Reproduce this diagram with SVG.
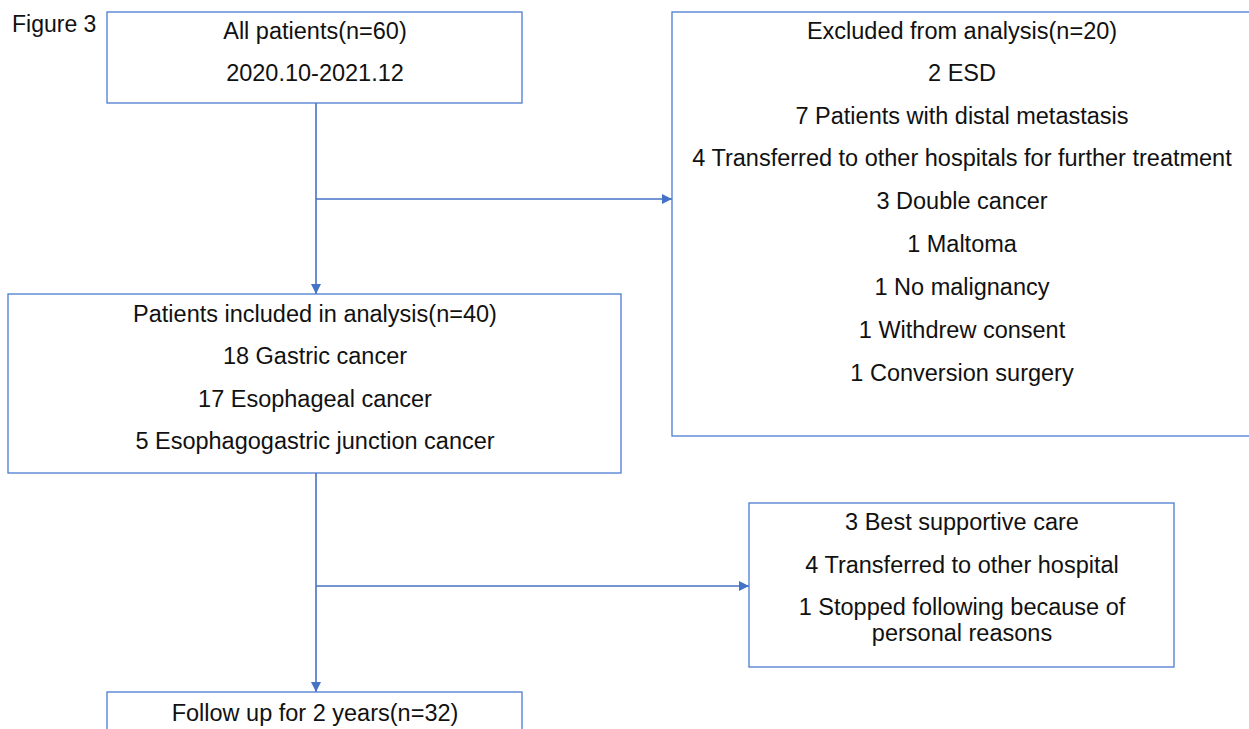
<svg xmlns="http://www.w3.org/2000/svg" width="1249" height="729" viewBox="0 0 1249 729">
<style>
.box{fill:#fff;stroke:#4a7bd0;stroke-width:1.3}
.t{font-family:"Liberation Sans",Arial,sans-serif;font-size:23.5px;fill:#111;text-anchor:middle}
.c{fill:none;stroke:#4472c4;stroke-width:1.6}
</style>
<defs>
<marker id="a" viewBox="0 0 10 10" refX="10" refY="5" markerWidth="10" markerHeight="10" orient="auto" markerUnits="userSpaceOnUse">
<path d="M0,0 L10,5 L0,10 z" fill="#4472c4"/>
</marker>
</defs>
<rect width="1249" height="729" fill="#fff"/>
<text x="12" y="32" style="font-family:'Liberation Sans',Arial,sans-serif;font-size:23px;fill:#111">Figure 3</text>
<g id="connectors">
<line class="c" x1="316" y1="103" x2="316" y2="294" marker-end="url(#a)"/>
<line class="c" x1="316" y1="199" x2="672" y2="199" marker-end="url(#a)"/>
<line class="c" x1="316" y1="473" x2="316" y2="692" marker-end="url(#a)"/>
<line class="c" x1="316" y1="586" x2="749" y2="586" marker-end="url(#a)"/>
</g>
<g id="all-patients">
<rect class="box" x="107" y="12" width="415" height="91"/>
<text class="t" x="315" y="39">All patients(n=60)</text>
<text class="t" x="315" y="81">2020.10-2021.12</text>
</g>
<g id="excluded">
<rect class="box" x="672" y="12" width="590" height="424"/>
<text class="t" x="962" y="39">Excluded from analysis(n=20)</text>
<text class="t" x="962" y="81">2 ESD</text>
<text class="t" x="962" y="124">7 Patients with distal metastasis</text>
<text class="t" x="962" y="166">4 Transferred to other hospitals for further treatment</text>
<text class="t" x="962" y="209">3 Double cancer</text>
<text class="t" x="962" y="252">1 Maltoma</text>
<text class="t" x="962" y="295">1 No malignancy</text>
<text class="t" x="962" y="338">1 Withdrew consent</text>
<text class="t" x="962" y="381">1 Conversion surgery</text>
</g>
<g id="included">
<rect class="box" x="8" y="294" width="613" height="179"/>
<text class="t" x="315" y="322">Patients included in analysis(n=40)</text>
<text class="t" x="315" y="364">18 Gastric cancer</text>
<text class="t" x="315" y="407">17 Esophageal cancer</text>
<text class="t" x="315" y="449">5 Esophagogastric junction cancer</text>
</g>
<g id="dropped">
<rect class="box" x="749" y="503" width="425" height="164"/>
<text class="t" x="962" y="530">3 Best supportive care</text>
<text class="t" x="962" y="573">4 Transferred to other hospital</text>
<text class="t" x="962" y="615">1 Stopped following because of</text>
<text class="t" x="962" y="641">personal reasons</text>
</g>
<g id="follow-up">
<rect class="box" x="107" y="692" width="415" height="60"/>
<text class="t" x="315" y="721">Follow up for 2 years(n=32)</text>
</g>
</svg>
